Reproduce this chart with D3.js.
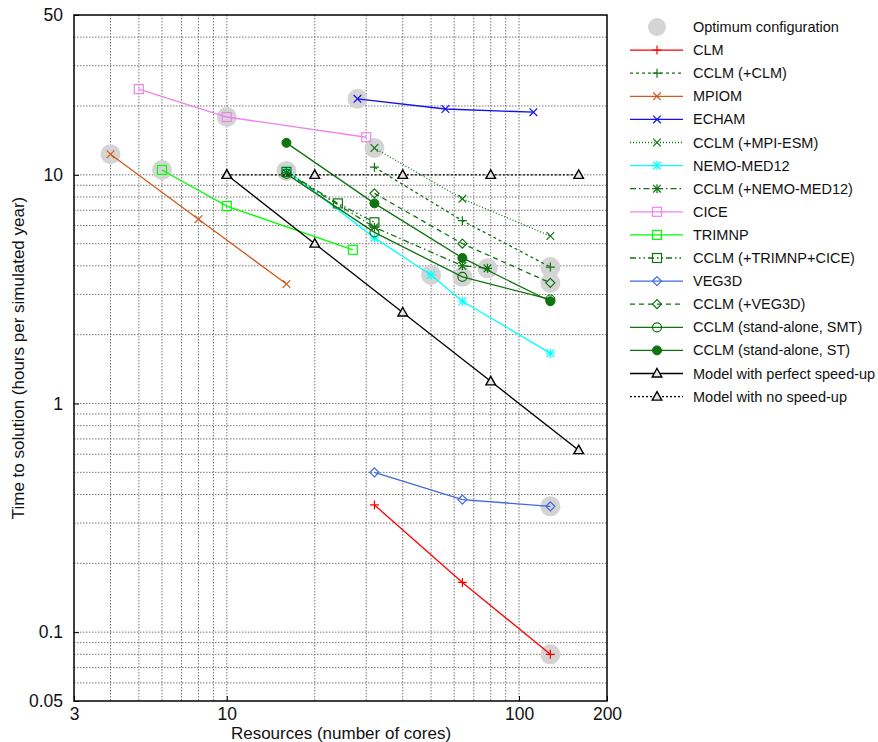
<!DOCTYPE html>
<html>
<head>
<meta charset="utf-8">
<script src="https://d3js.org/d3.v7.min.js"></script>
<style>
  body { margin: 0; background: #fff; }
  text { font-family: "Liberation Sans", Arial, sans-serif; }
</style>
</head>
<body>
<div id="chart"></div>
<script>
// ---- data (cores, hours per simulated year) ----
var coresCLM = [32, 64, 128],            timeCLM = [0.36, 0.165, 0.08];
var coresCCLM_CLM = [32, 64, 128],       timeCCLM_CLM = [10.8, 6.3, 3.95];
var coresMPIOM = [4, 8, 16],             timeMPIOM = [12.3, 6.4, 3.33];
var coresECHAM = [28, 56, 112],          timeECHAM = [21.5, 19.4, 18.8];
var coresCCLM_MPI = [32, 64, 128],       timeCCLM_MPI = [13.1, 7.85, 5.4];
var coresNEMO = [16, 32, 50, 64, 128],   timeNEMO = [10.5, 5.3, 3.65, 2.8, 1.66];
var coresCCLM_NEMO = [16, 32, 64, 78],   timeCCLM_NEMO = [10.2, 5.9, 4.0, 3.9];
var coresCICE = [5, 10, 30],             timeCICE = [23.7, 17.9, 14.6];
var coresTRIMNP = [6, 10, 27],           timeTRIMNP = [10.5, 7.3, 4.7];
var coresCCLM_TRIM = [16, 24, 32],       timeCCLM_TRIM = [10.3, 7.5, 6.2];
var coresVEG3D = [32, 64, 128],          timeVEG3D = [0.5, 0.38, 0.355];
var coresCCLM_VEG = [32, 64, 128],       timeCCLM_VEG = [8.3, 5.0, 3.37];
var coresSMT = [16, 32, 64, 128],        timeSMT = [10.1, 5.6, 3.58, 2.85];
var coresST = [16, 32, 64, 128],         timeST = [13.8, 7.5, 4.33, 2.8];
var coresPerfect = [10, 20, 40, 80, 160], timePerfect = [10, 5, 2.5, 1.25, 0.625];
var coresNone = [10, 20, 40, 80, 160],    timeNone = [10, 10, 10, 10, 10];

// optimum configurations (grey discs)
var optCores = [4, 6, 10, 16, 28, 32, 50, 64, 78, 128, 128, 128, 128];
var optTime  = [12.3, 10.5, 17.9, 10.4, 21.5, 13.1, 3.65, 3.58, 3.9, 3.95, 3.37, 0.355, 0.08];

var xTickLabels = [3, 10, 100, 200];
var yTickLabels = [0.05, 0.1, 1, 10, 50];

// series table: name, x, y, colour, dash, marker
var series = [
    { name: "CLM", x: coresCLM, y: timeCLM, color: "#ff0000", dash: null, marker: "plus" },
    { name: "CCLM (+CLM)", x: coresCCLM_CLM, y: timeCCLM_CLM, color: "#0f730f", dash: "3,3", marker: "plus" },
    { name: "MPIOM", x: coresMPIOM, y: timeMPIOM, color: "#d2591e", dash: null, marker: "cross" },
    { name: "ECHAM", x: coresECHAM, y: timeECHAM, color: "#1010f0", dash: null, marker: "cross" },
    { name: "CCLM (+MPI-ESM)", x: coresCCLM_MPI, y: timeCCLM_MPI, color: "#0f730f", dash: "1,2", marker: "cross" },
    { name: "NEMO-MED12", x: coresNEMO, y: timeNEMO, color: "#00ffff", dash: null, marker: "star" },
    { name: "CCLM (+NEMO-MED12)", x: coresCCLM_NEMO, y: timeCCLM_NEMO, color: "#0f730f", dash: "6,3,1.5,3", marker: "star" },
    { name: "CICE", x: coresCICE, y: timeCICE, color: "#ee82ee", dash: null, marker: "square" },
    { name: "TRIMNP", x: coresTRIMNP, y: timeTRIMNP, color: "#00ff00", dash: null, marker: "square" },
    { name: "CCLM (+TRIMNP+CICE)", x: coresCCLM_TRIM, y: timeCCLM_TRIM, color: "#0f730f", dash: "6,3,1.5,3,1.5,3", marker: "square" },
    { name: "VEG3D", x: coresVEG3D, y: timeVEG3D, color: "#4169e1", dash: null, marker: "diamond" },
    { name: "CCLM (+VEG3D)", x: coresCCLM_VEG, y: timeCCLM_VEG, color: "#0f730f", dash: "5,4", marker: "diamond" },
    { name: "CCLM (stand-alone, SMT)", x: coresSMT, y: timeSMT, color: "#0f730f", dash: null, marker: "circle" },
    { name: "CCLM (stand-alone, ST)", x: coresST, y: timeST, color: "#0f730f", dash: null, marker: "dot" },
    { name: "Model with perfect speed-up", x: coresPerfect, y: timePerfect, color: "#000000", dash: null, marker: "triangle" },
    { name: "Model with no speed-up", x: coresNone, y: timeNone, color: "#000000", dash: "2,2", marker: "triangle" }
];

// set the dimensions and margins of the graph
var margin = { top: 15, right: 271, bottom: 41, left: 74 },
    width = 878 - margin.left - margin.right,
    height = 742 - margin.top - margin.bottom;

var root = d3.select("#chart")
    .append("svg")
    .attr("width", 878)
    .attr("height", 742);

var svg = root.append("g")
    .attr("transform", "translate(" + margin.left + "," + margin.top + ")");

var x = d3.scaleLog().domain([3, 200]).range([0, width]);
var y = d3.scaleLog().domain([0.05, 50]).range([height, 0]);

// grid values: every integer multiple within each decade
var xGrid = [], yGrid = [];
[1, 10, 100].forEach(function (dec) {
    for (var k = 1; k <= 9; k++) {
        var v = k * dec;
        if (v > 3 && v < 200) xGrid.push(v);
    }
});
[0.01, 0.1, 1, 10].forEach(function (dec) {
    for (var k = 1; k <= 9; k++) {
        var v = +(k * dec).toPrecision(3);
        if (v > 0.05 && v < 50) yGrid.push(v);
    }
});

svg.append("g").selectAll("line")
    .data(xGrid).enter().append("line")
    .attr("x1", function (d) { return x(d); }).attr("x2", function (d) { return x(d); })
    .attr("y1", 0).attr("y2", height)
    .attr("stroke", "#777").attr("stroke-width", 1).attr("stroke-dasharray", "1.5,1.5");

svg.append("g").selectAll("line")
    .data(yGrid).enter().append("line")
    .attr("y1", function (d) { return y(d); }).attr("y2", function (d) { return y(d); })
    .attr("x1", 0).attr("x2", width)
    .attr("stroke", "#777").attr("stroke-width", 1).attr("stroke-dasharray", "1.5,1.5");

// axes
var xAxis = svg.append("g")
    .attr("transform", "translate(0," + height + ")")
    .call(d3.axisBottom(x).tickValues(xTickLabels).tickFormat(d3.format("d")).tickSize(-5).tickPadding(7));
var yAxis = svg.append("g")
    .call(d3.axisLeft(y).tickValues(yTickLabels).tickFormat(function (d) { return String(d); }).tickSize(-5).tickPadding(11));
[xAxis, yAxis].forEach(function (a) {
    a.select(".domain").remove();
    a.selectAll("text").style("font-size", "17.5px").attr("fill", "#111")
        .style("font-family", "'Liberation Sans', Arial, sans-serif");
    a.selectAll("line").attr("stroke", "#000");
});

// frame
svg.append("rect")
    .attr("width", width).attr("height", height)
    .attr("fill", "none").attr("stroke", "#000").attr("stroke-width", 1.5);

// optimum discs
svg.append("g").selectAll("circle")
    .data(optCores.map(function (c, i) { return [c, optTime[i]]; }))
    .enter().append("circle")
    .attr("cx", function (d) { return x(d[0]); })
    .attr("cy", function (d) { return y(d[1]); })
    .attr("r", 10)
    .attr("fill", "#d4d4d4");

// marker drawing
function drawMarker(g, type, color) {
    var s = 4.5;
    if (type === "plus" || type === "star") {
        g.append("path").attr("d", "M" + (-s) + ",0H" + s + "M0," + (-s) + "V" + s)
            .attr("stroke", color).attr("stroke-width", 1.2);
    }
    if (type === "cross" || type === "star") {
        var c = s * 0.85;
        g.append("path").attr("d", "M" + (-c) + "," + (-c) + "L" + c + "," + c + "M" + (-c) + "," + c + "L" + c + "," + (-c))
            .attr("stroke", color).attr("stroke-width", 1.2);
    }
    if (type === "square") {
        g.append("rect").attr("x", -4.5).attr("y", -4.5).attr("width", 9).attr("height", 9)
            .attr("fill", "none").attr("stroke", color).attr("stroke-width", 1.2);
    }
    if (type === "diamond") {
        g.append("path").attr("d", "M0,-4.5L4.5,0L0,4.5L-4.5,0Z")
            .attr("fill", "none").attr("stroke", color).attr("stroke-width", 1.2);
    }
    if (type === "circle") {
        g.append("circle").attr("r", 4.5)
            .attr("fill", "none").attr("stroke", color).attr("stroke-width", 1.2);
    }
    if (type === "dot") {
        g.append("circle").attr("r", 4.5)
            .attr("fill", color).attr("stroke", color).attr("stroke-width", 1);
    }
    if (type === "triangle") {
        g.append("path").attr("d", "M0,-5L4.8,3.5L-4.8,3.5Z")
            .attr("fill", "#e6e6e6").attr("stroke", color).attr("stroke-width", 1.4);
    }
}

var line = d3.line()
    .x(function (d) { return x(d[0]); })
    .y(function (d) { return y(d[1]); });

// lines + markers
series.forEach(function (s) {
    var pts = s.x.map(function (c, i) { return [c, s.y[i]]; });
    var g = svg.append("g");
    g.append("path")
        .datum(pts)
        .attr("d", line)
        .attr("fill", "none")
        .attr("stroke", s.color)
        .attr("stroke-width", 1.3)
        .attr("stroke-dasharray", s.dash);
    pts.forEach(function (p) {
        var m = g.append("g").attr("transform", "translate(" + x(p[0]) + "," + y(p[1]) + ")");
        drawMarker(m, s.marker, s.color);
    });
});

// axis titles
root.append("text")
    .attr("text-anchor", "middle")
    .attr("x", 341)
    .attr("y", 739)
    .style("font-size", "17px")
    .attr("fill", "#111")
    .text("Resources (number of cores)");

root.append("text")
    .attr("text-anchor", "middle")
    .attr("transform", "translate(24," + (margin.top + height / 2) + ") rotate(-90)")
    .style("font-size", "17px")
    .attr("fill", "#111")
    .text("Time to solution (hours per simulated year)");

// -------------
// legend
// -------------
var legend = root.append("g").attr("transform", "translate(630,27)");
var rowH = 23.1;

var optRow = legend.append("g");
optRow.append("circle").attr("cx", 27).attr("cy", 0).attr("r", 9).attr("fill", "#d4d4d4");
optRow.append("text").attr("x", 63).attr("y", 0).attr("dy", "0.35em")
    .style("font-size", "14.5px").attr("fill", "#111").text("Optimum configuration");

series.forEach(function (s, i) {
    var row = legend.append("g").attr("transform", "translate(0," + ((i + 1) * rowH) + ")");
    row.append("line")
        .attr("x1", 0).attr("x2", 53).attr("y1", 0).attr("y2", 0)
        .attr("stroke", s.color).attr("stroke-width", 1.3)
        .attr("stroke-dasharray", s.dash);
    var m = row.append("g").attr("transform", "translate(27,0)");
    drawMarker(m, s.marker, s.color);
    row.append("text").attr("x", 63).attr("y", 0).attr("dy", "0.35em")
        .style("font-size", "14.5px").attr("fill", "#111").text(s.name);
});
</script>
</body>
</html>
